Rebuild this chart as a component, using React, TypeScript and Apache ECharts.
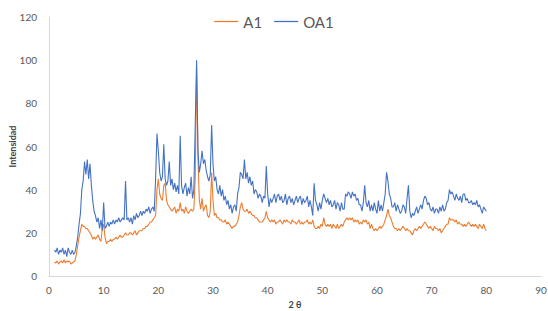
import React, { useEffect, useRef } from "react";
import * as echarts from "echarts";

// 2θ sampled every 0.25° from 1 to 80
const thetaStart = 1;
const thetaStep = 0.25;

const a1: number[] = [
  6.5, 6, 7, 5.5, 6.5, 7, 6, 7.5, 6, 7, 6.5, 7, 5.5, 6, 6.5, 7,
  10, 14, 18, 21, 24, 23, 23, 22, 22, 21, 20, 19, 17, 18, 17, 18,
  19, 17, 16, 22, 24, 18, 15, 16, 16, 17, 16, 17, 17, 18, 17, 18,
  19, 18, 18, 19, 20, 19, 19, 20, 20, 19, 20, 21, 19, 20, 21, 21,
  21, 22, 22, 23, 23, 24, 25, 25, 26, 27, 28, 40, 45, 38, 36, 35,
  42, 43, 35, 33, 32, 31, 30, 31, 32, 29, 31, 30, 34, 30, 31, 29,
  32, 30, 29, 30, 31, 30, 31, 45, 97, 55, 35, 31, 36, 30, 32, 33,
  28, 27, 30, 48, 35, 28, 29, 27, 27, 26, 26, 25, 25, 26, 24, 25,
  24, 23, 22, 23, 23, 24, 25, 28, 32, 34, 31, 30, 30, 31, 29, 30,
  29, 28, 28, 27, 27, 26, 25, 25, 25, 26, 27, 30, 27, 26, 25, 26,
  25, 26, 24, 25, 25, 26, 25, 24, 26, 25, 26, 25, 25, 24, 26, 25,
  25, 24, 25, 26, 24, 25, 24, 25, 25, 26, 24, 25, 24, 26, 23, 22,
  22, 23, 22, 24, 23, 27, 24, 23, 24, 23, 24, 22, 24, 23, 22, 24,
  22, 23, 24, 23, 25, 26, 27, 26, 27, 26, 27, 25, 26, 25, 26, 24,
  25, 24, 26, 25, 26, 24, 25, 22, 24, 22, 21, 22, 21, 22, 23, 22,
  23, 24, 26, 28, 31, 28, 27, 25, 23, 22, 22, 21, 22, 21, 22, 23,
  22, 21, 22, 21, 21, 20, 19, 21, 22, 21, 22, 23, 22, 23, 24, 25,
  24, 23, 22, 23, 22, 21, 23, 22, 22, 21, 22, 20, 21, 22, 23, 24,
  24, 27, 26, 26, 26, 25, 26, 24, 25, 24, 24, 23, 24, 23, 24, 25,
  24, 23, 24, 23, 24, 23, 22, 24, 23, 22, 24, 22, 21,
];

const oa1: number[] = [
  12, 11, 13, 10, 12, 11, 13, 10, 12, 9, 13, 11, 10, 12, 10, 11,
  14, 18, 24, 29, 40, 44, 53, 47, 54, 45, 52, 42, 35, 30, 28, 25,
  27, 22, 26, 21, 34, 22, 23, 25, 23, 25, 24, 26, 24, 26, 25, 27,
  25, 26, 27, 26, 44, 26, 27, 25, 27, 24, 28, 26, 29, 27, 28, 30,
  28, 30, 29, 31, 30, 32, 29, 31, 32, 30, 45, 66, 58, 48, 44, 46,
  61, 45, 42, 44, 53, 42, 45, 40, 43, 39, 42, 38, 65, 42, 38, 41,
  43, 37, 41, 38, 46, 36, 40, 70, 100, 58, 48, 52, 58, 52, 54, 49,
  46, 44, 47, 70, 52, 44, 46, 40, 38, 42, 37, 40, 35, 37, 33, 35,
  31, 33, 29, 32, 33, 30, 38, 41, 48, 47, 45, 54, 45, 48, 43, 46,
  42, 44, 38, 40, 39, 36, 38, 37, 34, 37, 36, 51, 38, 32, 36, 34,
  36, 38, 34, 37, 38, 35, 37, 34, 35, 38, 33, 36, 37, 34, 36, 33,
  35, 37, 34, 36, 37, 33, 36, 34, 35, 37, 32, 35, 32, 28, 43, 35,
  33, 30, 34, 31, 35, 38, 36, 34, 36, 33, 35, 32, 33, 35, 31, 34,
  33, 30, 34, 31, 31, 38, 37, 39, 38, 36, 39, 37, 38, 35, 36, 33,
  33, 30, 34, 42, 34, 32, 35, 30, 33, 30, 34, 31, 29, 35, 30, 33,
  30, 34, 38, 48, 44, 38, 36, 32, 32, 34, 30, 33, 31, 29, 30, 33,
  32, 29, 36, 42, 30, 27, 29, 28, 30, 32, 29, 31, 33, 31, 35, 37,
  36, 33, 34, 31, 30, 32, 29, 31, 31, 29, 32, 30, 33, 30, 31, 34,
  35, 40, 38, 39, 37, 35, 38, 36, 35, 37, 34, 38, 38, 35, 36, 34,
  34, 35, 33, 34, 33, 35, 32, 33, 31, 29, 32, 31, 30,
];

const seriesNames = ["A1", "OA1"];
const seriesColors = ["#ED7D31", "#4472C4"];
const xTicks = { min: 0, max: 90, interval: 10 };
const yTicks = { min: 0, max: 120, interval: 20 };

const toPairs = (vals: number[]) =>
  vals.map((v, i) => [thetaStart + i * thetaStep, v]);

export default function App() {
  const ref = useRef<HTMLDivElement>(null);
  useEffect(() => {
    if (!ref.current) return;
    const chart = echarts.init(ref.current, undefined, { renderer: "svg" });
    const font = "Lato, 'Open Sans', sans-serif";
    chart.setOption({
      animation: false,
      backgroundColor: "#ffffff",
      color: seriesColors,
      textStyle: { fontFamily: font },
      legend: {
        top: 9,
        left: "center",
        itemWidth: 24,
        itemHeight: 1.3,
        itemGap: 12,
        icon: "rect",
        textStyle: { color: "#595959", fontSize: 15, fontFamily: font },
        data: seriesNames.map((n, i) => ({
          name: n,
          icon: "rect",
          itemStyle: { color: seriesColors[i] },
        })),
      },
      grid: {
        left: 49,
        right: 7,
        top: 17,
        bottom: 35,
        containLabel: false,
        outerBoundsMode: "none",
      },
      xAxis: {
        type: "value",
        ...xTicks,
        name: "2 θ",
        nameLocation: "middle",
        nameGap: 24,
        nameMoveOverlap: false,
        nameTextStyle: { color: "#404040", fontSize: 9, fontWeight: "bold", fontFamily: font },
        axisLine: { show: true, lineStyle: { color: "#D9D9D9", width: 1 } },
        axisTick: { show: false },
        splitLine: { show: false },
        axisLabel: { color: "#595959", fontSize: 10, margin: 9, fontFamily: font },
      },
      yAxis: {
        type: "value",
        ...yTicks,
        name: "Intensidad",
        nameLocation: "middle",
        nameRotate: 90,
        nameGap: 32,
        nameMoveOverlap: false,
        nameTextStyle: { color: "#404040", fontSize: 9, fontWeight: "bold", fontFamily: font },
        axisLine: { show: true, lineStyle: { color: "#D9D9D9", width: 1 } },
        axisTick: { show: false },
        splitLine: { show: false },
        axisLabel: { color: "#595959", fontSize: 10, margin: 12, fontFamily: font },
      },
      series: [
        {
          name: seriesNames[0],
          type: "line",
          data: toPairs(a1),
          showSymbol: false,
          symbol: "none",
          lineStyle: { color: seriesColors[0], width: 1.1 },
          itemStyle: { color: seriesColors[0] },
        },
        {
          name: seriesNames[1],
          type: "line",
          data: toPairs(oa1),
          showSymbol: false,
          symbol: "none",
          lineStyle: { color: seriesColors[1], width: 1.1 },
          itemStyle: { color: seriesColors[1] },
        },
      ],
    });
    return () => chart.dispose();
  }, []);
  return (
    <div
      ref={ref}
      style={{ position: "fixed", left: 0, top: 0, width: 548, height: 311, background: "#fff" }}
    />
  );
}
